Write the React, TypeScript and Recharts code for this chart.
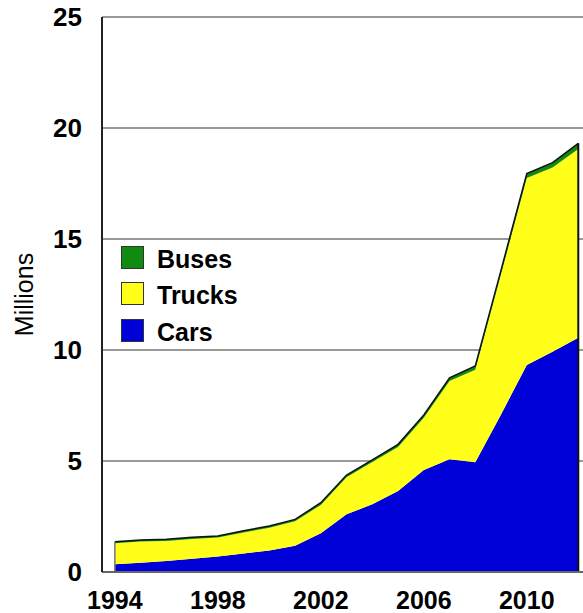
import {
  AreaChart,
  Area,
  XAxis,
  YAxis,
  CartesianGrid,
  ReferenceLine,
} from "recharts";

const years = [
  1994, 1995, 1996, 1997, 1998, 1999, 2000, 2001, 2002, 2003, 2004, 2005, 2006,
  2007, 2008, 2009, 2010, 2011, 2012,
];
const cars = [
  0.35, 0.42, 0.5, 0.6, 0.7, 0.83, 0.97, 1.18, 1.75, 2.6, 3.05, 3.65, 4.6, 5.08,
  4.94, 7.1, 9.32, 9.92, 10.55,
];
const trucks = [
  0.94, 0.95, 0.9, 0.89, 0.85, 0.95, 1.02, 1.11, 1.27, 1.67, 1.9, 1.98, 2.35,
  3.52, 4.17, 6.32, 8.43, 8.3, 8.5,
];
const buses = [
  0.07, 0.07, 0.07, 0.07, 0.07, 0.08, 0.08, 0.08, 0.1, 0.1, 0.1, 0.12, 0.12,
  0.15, 0.17, 0.18, 0.2, 0.22, 0.26,
];
const xTicks = [1994, 1998, 2002, 2006, 2010];
const yTicks = [0, 5, 10, 15, 20, 25];

const legendItems = [
  { name: "Buses", color: "#108a10" },
  { name: "Trucks", color: "#ffff1a" },
  { name: "Cars", color: "#0000d8" },
];

const rows = years.map((year, i) => ({
  year,
  cars: cars[i],
  trucks: trucks[i],
  buses: buses[i],
}));

const lastIdx = years.length - 1;
const lastTotal = cars[lastIdx] + trucks[lastIdx] + buses[lastIdx];
const firstTotal = cars[0] + trucks[0] + buses[0];

const font = "'Liberation Sans', Arial, sans-serif";

// x tick labels, drawn by hand so size and position are exact
function YearTick(props: any) {
  const { x, y, payload } = props;
  if (!xTicks.includes(payload.value)) return null;
  return (
    <text
      x={x}
      y={y}
      dy={37}
      textAnchor="middle"
      fontSize={25}
      fontWeight="bold"
      fontFamily={font}
      fill="#000"
    >
      {payload.value}
    </text>
  );
}

function ValueTick(props: any) {
  const { x, y, payload } = props;
  return (
    <text
      x={x}
      y={y}
      dy={9}
      textAnchor="end"
      fontSize={26}
      fontWeight="bold"
      fontFamily={font}
      fill="#000"
    >
      {payload.value}
    </text>
  );
}

function LegendBox() {
  return (
    <div
      style={{
        position: "absolute",
        left: 121,
        top: 238,
        fontFamily: font,
      }}
    >
      {legendItems.map((it) => (
        <div
          key={it.name}
          style={{ display: "flex", alignItems: "flex-end", height: 36.7 }}
        >
          <span
            style={{
              display: "inline-block",
              width: 21,
              height: 21,
              background: it.color,
              border: "1px solid #333",
              marginRight: 13,
              marginBottom: 6,
            }}
          />
          <span
            style={{
              fontSize: 25,
              fontWeight: "bold",
              color: "#000",
              lineHeight: "25px",
              marginBottom: 3,
            }}
          >
            {it.name}
          </span>
        </div>
      ))}
    </div>
  );
}

export default function App() {
  return (
    <div
      style={{
        position: "absolute",
        left: 0,
        top: 0,
        width: 583,
        height: 613,
        overflow: "hidden",
        background: "#fff",
      }}
    >
      <AreaChart
        width={600}
        height={613}
        data={rows}
        margin={{ top: 17, right: 14, bottom: 0, left: 0 }}
      >
        <CartesianGrid vertical={false} stroke="#333" strokeWidth={1} />
        <XAxis
          dataKey="year"
          type="number"
          domain={[1993.5, 2012.3]}
          ticks={xTicks}
          interval={0}
          height={41}
          tickSize={0}
          tickLine={false}
          tickMargin={0}
          axisLine={{ stroke: "#666", strokeWidth: 2 }}
          tick={<YearTick />}
        />
        <YAxis
          type="number"
          domain={[0, 25]}
          ticks={yTicks}
          interval={0}
          width={102}
          tickSize={0}
          tickLine={false}
          tickMargin={20}
          axisLine={{ stroke: "#222", strokeWidth: 2 }}
          tick={<ValueTick />}
          label={{
            value: "Millions",
            angle: -90,
            position: "insideLeft",
            offset: 24,
            style: { textAnchor: "middle", fontSize: 25, fill: "#000", fontFamily: font },
          }}
        />
        <Area
          dataKey="cars"
          stackId="v"
          type="linear"
          fill="#0000d8"
          fillOpacity={1}
          stroke="none"
          isAnimationActive={false}
        />
        <Area
          dataKey="trucks"
          stackId="v"
          type="linear"
          fill="#ffff1a"
          fillOpacity={1}
          stroke="none"
          isAnimationActive={false}
        />
        <Area
          dataKey="buses"
          stackId="v"
          type="linear"
          fill="#108a10"
          fillOpacity={1}
          stroke="#111"
          strokeWidth={1.5}
          isAnimationActive={false}
        />
        <ReferenceLine
          segment={[
            { x: years[0], y: 0 },
            { x: years[0], y: firstTotal },
          ]}
          stroke="#777"
          strokeWidth={1.5}
        />
        <ReferenceLine
          segment={[
            { x: years[lastIdx], y: 0 },
            { x: years[lastIdx], y: lastTotal },
          ]}
          stroke="#111"
          strokeWidth={2}
        />
      </AreaChart>
      <LegendBox />
    </div>
  );
}
